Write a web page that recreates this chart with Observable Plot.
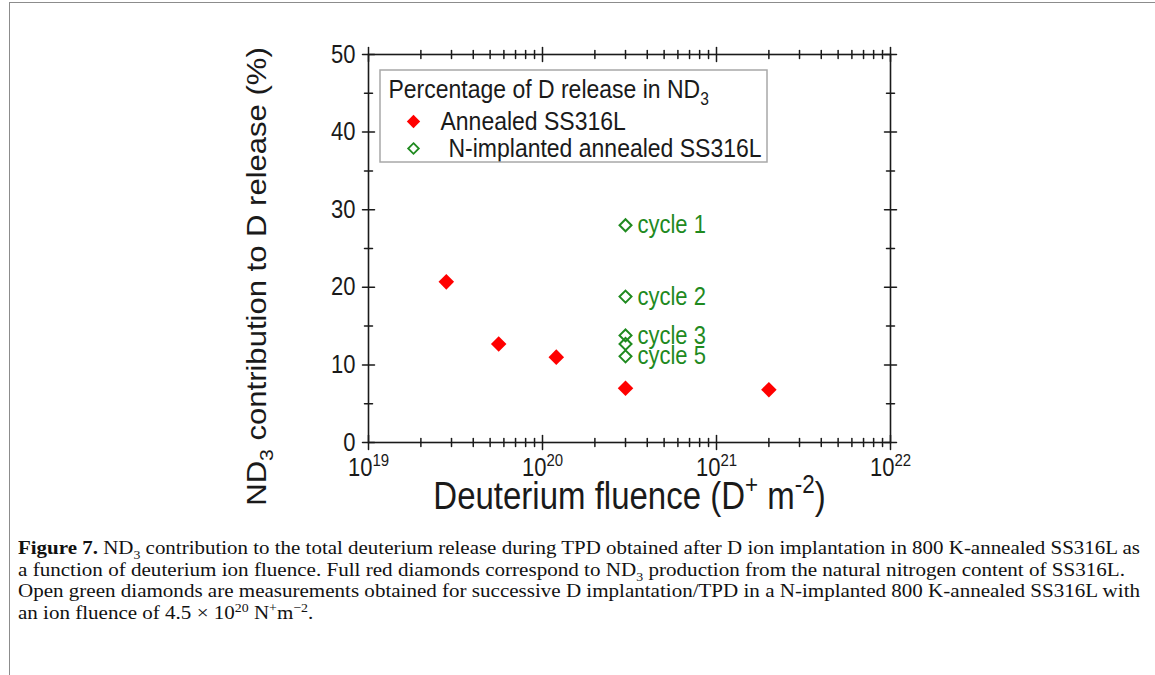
<!DOCTYPE html>
<html><head><meta charset="utf-8">
<script src="https://cdn.jsdelivr.net/npm/d3@7"></script>
<script src="https://cdn.jsdelivr.net/npm/@observablehq/plot@0.6"></script>
<style>
html,body{margin:0;padding:0;background:#fff;}
#wrap{position:relative;width:1155px;height:675px;overflow:hidden;font-family:"Liberation Sans",Arial,sans-serif;}
#border{position:absolute;left:9px;top:2px;width:1200px;height:700px;border-top:1px solid #8c8c8c;border-left:1px solid #8c8c8c;}
#chart{position:absolute;left:0;top:0;}
#caption{position:absolute;left:18px;top:537px;font-family:"Liberation Serif","Times New Roman",serif;font-size:19.5px;color:#111;}
#caption .line{white-space:nowrap;line-height:21.7px;height:21.7px;transform-origin:0 50%;width:max-content;}
#caption sub,#caption sup{font-size:66%;line-height:0;}
</style></head>
<body>
<div id="wrap">
  <div id="border"></div>
  <div id="chart"></div>
  <div id="caption">
    <div class="line"><b>Figure 7.</b> ND<sub>3</sub> contribution to the total deuterium release during TPD obtained after D ion implantation in 800 K-annealed SS316L as</div>
    <div class="line">a function of deuterium ion fluence. Full red diamonds correspond to ND<sub>3</sub> production from the natural nitrogen content of SS316L.</div>
    <div class="line">Open green diamonds are measurements obtained for successive D implantation/TPD in a N-implanted 800 K-annealed SS316L with</div>
    <div class="line">an ion fluence of 4.5 × 10<sup>20</sup> N<sup>+</sup>m<sup>−2</sup>.</div>
  </div>
</div>
<script>
// ---- data ----
const annealedFluence = [2.8e19, 5.6e19, 1.2e20, 3.0e20, 2.0e21];
const annealedND3 = [20.7, 12.7, 11.0, 7.0, 6.8];
const nImplFluence = [3.0e20, 3.0e20, 3.0e20, 3.0e20, 3.0e20];
const nImplND3 = [28.0, 18.8, 13.8, 12.7, 11.1];
const cycleLabels = ["cycle 1", "cycle 2", "cycle 3", "", "cycle 5"];
const xMajorTicks = [1e19, 1e20, 1e21, 1e22];
const xTickExponents = ["19", "20", "21", "22"];
const yMajorTicks = [0, 10, 20, 30, 40, 50];
const yMinorTicks = [5, 15, 25, 35, 45];
const xMinorTicks = [];
for (const d of [1e19, 1e20, 1e21]) for (let m = 2; m <= 9; m++) xMinorTicks.push(m * d);

const legendTitle = "Percentage of D release in ND_{3}";
const legendNames = ["Annealed SS316L", "N-implanted annealed SS316L"];
const xTitle = "Deuterium fluence (D^{+} m^{-2})";
const yTitle = "ND_{3} contribution to D release (%)";

const RED = "#ff0000", GREEN = "#1f8a1f", INK = "#1a1a1a";

const annealed = annealedFluence.map((x, i) => ({x, y: annealedND3[i]}));
const nImpl = nImplFluence.map((x, i) => ({x, y: nImplND3[i], label: cycleLabels[i]}));

const tickShape = {draw(ctx, l) { ctx.moveTo(0, 0); ctx.lineTo(0, -l); }};
const tk = (data, o) => Plot.vector(data, {anchor: "middle", shape: tickShape, stroke: INK, strokeWidth: 1.5, ...o});
const lg = (o) => ({frameAnchor: "top-left", textAnchor: "start", lineAnchor: "middle", fontSize: 23, text: d => d, fill: INK, ...o});

const plot = Plot.plot({
  width: 1155, height: 530,
  marginLeft: 368, marginRight: 265, marginTop: 54, marginBottom: 88,
  style: {fontFamily: '"Liberation Sans", Arial, sans-serif', color: INK, background: "transparent"},
  x: {type: "log", domain: [1e19, 1e22]},
  y: {domain: [0, 50]},
  marks: [
    Plot.frame({stroke: INK, strokeWidth: 1.6}),
    // bottom & top ticks
    tk(xMajorTicks, {x: d => d, y: () => 0, rotate: 0, length: 14}),
    tk(xMinorTicks, {x: d => d, y: () => 0, rotate: 0, length: 8}),
    tk(xMajorTicks, {x: d => d, y: () => 50, rotate: 0, length: 14}),
    tk(xMinorTicks, {x: d => d, y: () => 50, rotate: 0, length: 8}),
    // left & right ticks
    tk(yMajorTicks, {y: d => d, x: () => 1e19, rotate: 90, length: 12}),
    tk(yMinorTicks, {y: d => d, x: () => 1e19, rotate: 90, length: 8}),
    tk(yMajorTicks, {y: d => d, x: () => 1e22, rotate: 90, length: 12}),
    tk(yMinorTicks, {y: d => d, x: () => 1e22, rotate: 90, length: 8}),
    Plot.axisX(xMajorTicks, {anchor: "bottom", tickSize: 0, tickPadding: 16, fontSize: 22, label: null,
      tickFormat: d => "10^{" + xTickExponents[xMajorTicks.indexOf(d)] + "}"}),
    Plot.axisY(yMajorTicks, {anchor: "left", tickSize: 0, tickPadding: 13, fontSize: 22, label: null}),
    Plot.text([yTitle], {frameAnchor: "left", textAnchor: "middle", lineAnchor: "middle", rotate: -90, dx: -111, dy: 28, fontSize: 27, text: d => d, fill: INK}),
    Plot.text([xTitle], {frameAnchor: "bottom", textAnchor: "middle", lineAnchor: "middle", dy: 54, fontSize: 33, text: d => d, fill: INK}),
    // data
    Plot.dot(annealed, {x: "x", y: "y", symbol: "diamond2", r: 7, fill: RED}),
    Plot.dot(nImpl, {x: "x", y: "y", symbol: "diamond2", r: 5.4, stroke: GREEN, strokeWidth: 2, fill: "none"}),
    Plot.text(nImpl, {x: "x", y: "y", text: "label", dx: 12, textAnchor: "start", lineAnchor: "middle", fontSize: 22, fill: GREEN}),
    // legend
    Plot.text([legendTitle], lg({dx: 20, dy: 35})),
    Plot.dot([legendNames[0]], {frameAnchor: "top-left", dx: 45, dy: 67, symbol: "diamond2", r: 6, fill: RED}),
    Plot.dot([legendNames[1]], {frameAnchor: "top-left", dx: 45, dy: 94, symbol: "diamond2", r: 4.8, stroke: GREEN, strokeWidth: 1.8, fill: "none"}),
    Plot.text([legendNames[0]], lg({dx: 72, dy: 67})),
    Plot.text([legendNames[1]], lg({dx: 80, dy: 94}))
  ]
});
document.getElementById("chart").appendChild(plot);

// legend box
const svg = d3.select(plot);
svg.append("rect").attr("x", 380).attr("y", 70).attr("width", 387).attr("height", 92)
  .attr("fill", "none").attr("stroke", "#a8a8a8").attr("stroke-width", 1.5);

// rich text (sub/superscripts)
const NS = "http://www.w3.org/2000/svg";
plot.querySelectorAll("text").forEach(el => {
  const s = el.textContent;
  if (!/[_^]\{/.test(s)) return;
  const fs = parseFloat(getComputedStyle(el).fontSize) || 20;
  const parts = s.split(/([_^]\{[^}]*\})/);
  el.textContent = "";
  let shift = 0;
  for (const p of parts) {
    if (!p) continue;
    const m = p.match(/^([_^])\{([^}]*)\}$/);
    const t = document.createElementNS(NS, "tspan");
    let target = 0;
    if (m) {
      target = m[1] === "^" ? -0.4 * fs : 0.25 * fs;
      t.setAttribute("font-size", (0.68 * fs).toFixed(1));
      t.textContent = m[2];
    } else t.textContent = p;
    t.setAttribute("dy", (target - shift).toFixed(1));
    shift = target;
    el.appendChild(t);
  }
});

// the reference figure is slightly condensed horizontally: stretch glyphs vertically
const K = 1.15;
plot.querySelectorAll("text").forEach(el => {
  const tr = el.getAttribute("transform");
  if (tr) {
    const sc = /rotate\(/.test(tr) ? `scale(${K},1)` : `scale(1,${K})`;
    el.setAttribute("transform", tr + " " + sc);
  }
});

// caption line fitting
const lines = Array.from(document.querySelectorAll("#caption .line"));
const targets = [1122, 1107, 1122];
const scales = [];
lines.forEach((el, i) => {
  const w = el.getBoundingClientRect().width;
  let s;
  if (i < targets.length) { s = targets[i] / w; scales.push(s); }
  else s = scales.reduce((a, b) => a + b, 0) / scales.length;
  el.style.transform = `scaleX(${s})`;
});
</script>
</body></html>
